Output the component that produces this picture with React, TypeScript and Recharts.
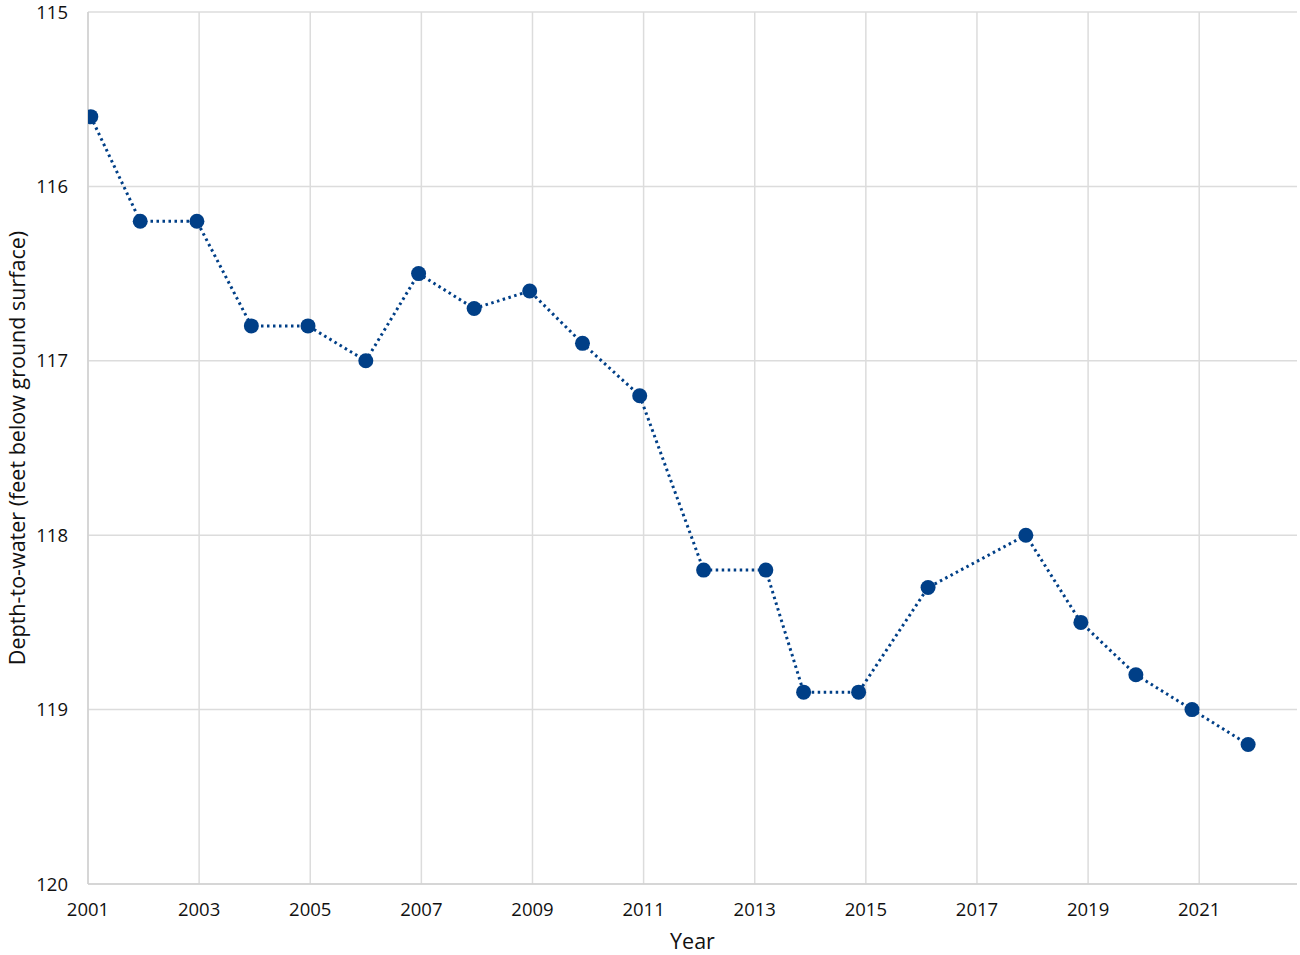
import { LineChart, Line, XAxis, YAxis, CartesianGrid } from 'recharts'

// measurement dates (decimal years) and depth-to-water readings
const years = [
  2001.05, 2001.94, 2002.96, 2003.94, 2004.96, 2006.0, 2006.95, 2007.95, 2008.95, 2009.9,
  2010.93, 2012.08, 2013.2, 2013.88, 2014.87, 2016.12, 2017.88, 2018.87, 2019.86, 2020.87, 2021.88,
]
const depths = [
  115.6, 116.2, 116.2, 116.8, 116.8, 117.0, 116.5, 116.7, 116.6, 116.9,
  117.2, 118.2, 118.2, 118.9, 118.9, 118.3, 118.0, 118.5, 118.8, 119.0, 119.2,
]
const xTicks = [2001, 2003, 2005, 2007, 2009, 2011, 2013, 2015, 2017, 2019, 2021]
const yTicks = [115, 116, 117, 118, 119, 120]

const data = years.map((year, i) => ({ year, depth: depths[i] }))

const FONT = '"Open Sans", "Noto Sans", sans-serif'
const BLUE = '#003f87'

export default function App() {
  return (
    <div style={{ position: 'absolute', left: 0, top: 0, width: 1300, height: 955, background: '#fff', fontFamily: FONT }}>
      <LineChart width={1300} height={955} data={data} margin={{ top: 12, right: 3, bottom: 0, left: 0 }}>
        <CartesianGrid stroke="#dcdcdc" strokeWidth={1.5} horizontalValues={yTicks} verticalValues={xTicks} />
        <XAxis
          type="number"
          dataKey="year"
          domain={[2001, 2022.76]}
          ticks={xTicks}
          allowDataOverflow
          height={71}
          stroke="#d0d0d0"
          strokeWidth={1.5}
          tickLine={false}
          tickMargin={13}
          tick={{ fill: '#111', fontSize: 18.5, fontFamily: FONT }}
          label={{ value: 'Year', position: 'insideBottom', offset: 6, fill: '#111', fontSize: 21.5, fontFamily: FONT }}
        />
        <YAxis
          type="number"
          domain={[115, 120]}
          ticks={yTicks}
          reversed
          width={88}
          stroke="#d0d0d0"
          strokeWidth={1.5}
          tickLine={false}
          tickMargin={14}
          tick={{ fill: '#111', fontSize: 18.5, fontFamily: FONT }}
          label={{
            value: 'Depth-to-water (feet below ground surface)',
            angle: -90,
            position: 'insideLeft',
            offset: 0,
            dx: 17,
            style: { textAnchor: 'middle' },
            fill: '#111',
            fontSize: 21.5,
            fontFamily: FONT,
          }}
        />
        <Line
          type="linear"
          dataKey="depth"
          stroke={BLUE}
          strokeWidth={3}
          strokeDasharray="2.5 3.5"
          dot={{ r: 7.5, fill: BLUE, stroke: BLUE, strokeWidth: 0 }}
          activeDot={false}
          isAnimationActive={false}
        />
      </LineChart>
    </div>
  )
}
